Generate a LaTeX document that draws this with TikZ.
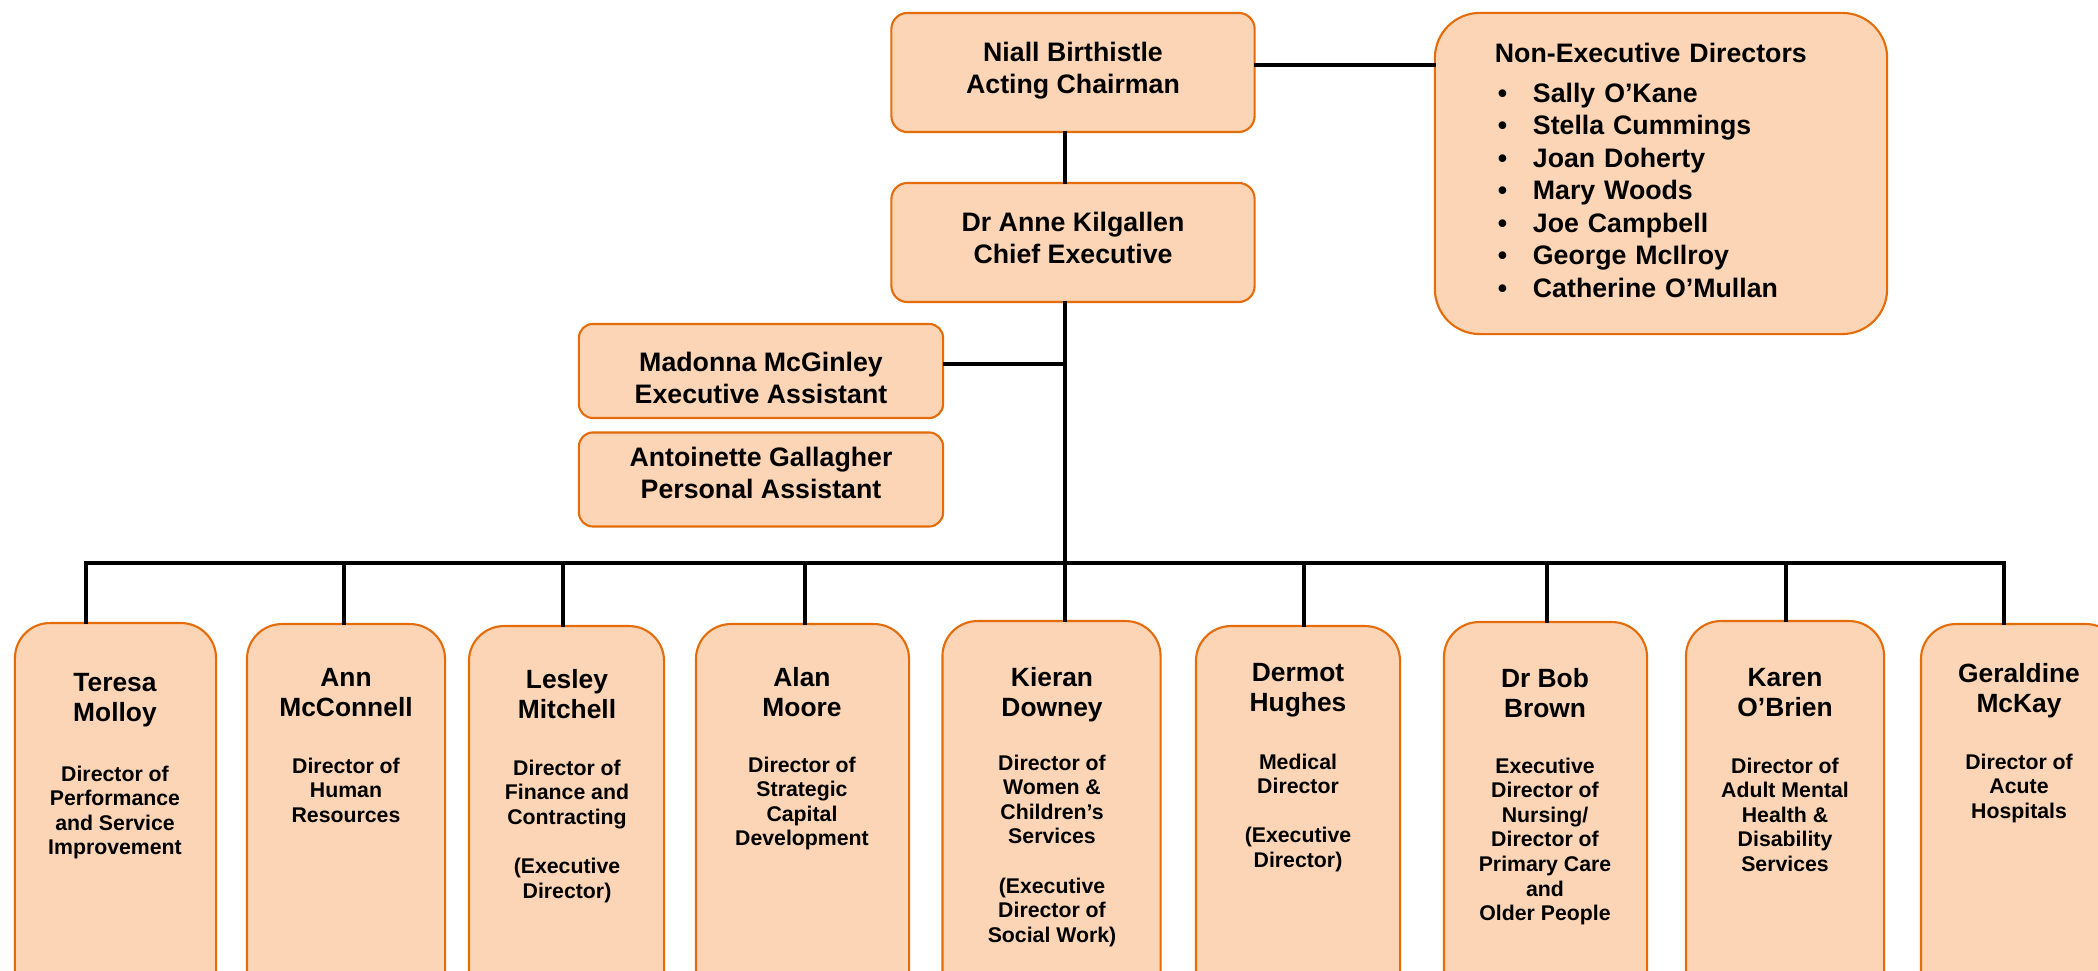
\documentclass[tikz,border=0pt]{standalone}
\usepackage{fontspec}
\setmainfont{Liberation Sans}
\definecolor{boxfill}{HTML}{FBD5B5}
\definecolor{boxline}{HTML}{E46C0A}
\newcommand{\nedbullet}{\makebox[0.38cm][l]{\hspace{0.03cm}\textbullet}}

\begin{document}
\begin{tikzpicture}[x=0.01cm, y=-0.01cm,
  orgbox/.style={draw=boxline, fill=boxfill, line width=0.6pt, align=center, font=\fontsize{7.6}{9.1}\selectfont\bfseries},
  topbox/.style={orgbox, rounded corners=0.16cm, minimum width=3.63cm, minimum height=1.19cm, text depth=0.1cm},
  pabox/.style={orgbox, rounded corners=0.14cm, minimum width=3.64cm, minimum height=0.94cm},
  nedbox/.style={orgbox, rounded corners=0.45cm, align=left, text width=3.32cm, inner xsep=0.6cm, minimum height=3.21cm, text depth=2.41cm, font=\fontsize{7.6}{9.25}\selectfont\bfseries},
  dirbox/.style={orgbox, anchor=north, rounded corners=0.35cm, minimum height=3.9cm},
  dirname/.style={anchor=north, align=center, inner sep=0pt, font=\fontsize{7.5}{8.5}\selectfont\bfseries},
  dirrole/.style={anchor=north, align=center, inner sep=0pt, font=\fontsize{6.05}{7}\selectfont\bfseries},
  conn/.style={line width=0.95pt, line cap=rect}]
  \useasboundingbox (0,0) rectangle (2098,971);
  \clip (0,0) rectangle (2098,971);

  \node[topbox] (chair) at (1073,72.5) {Niall Birthistle\\Acting Chairman};
  \node[topbox] (ceo) at (1073,242.5) {Dr Anne Kilgallen\\Chief Executive};
  \node[nedbox] (ned) at (1661,173.5) {Non-Executive Directors\\[2pt]
    \nedbullet Sally O’Kane\\ \nedbullet Stella Cummings\\ \nedbullet Joan Doherty\\
    \nedbullet Mary Woods\\ \nedbullet Joe Campbell\\ \nedbullet George McIlroy\\
    \nedbullet Catherine O’Mullan};
  \node[pabox, text height=0.645cm] (ea) at (761,371) {Madonna McGinley\\Executive Assistant};
  \node[pabox, text depth=0.13cm] (pa) at (761,479.5) {Antoinette Gallagher\\Personal Assistant};

  \node[dirbox, minimum width=2.01cm] (tm) at (115.5,622) {};
  \node[dirbox, minimum width=1.98cm] (am) at (346,623) {};
  \node[dirbox, minimum width=1.95cm] (lm) at (566.5,625) {};
  \node[dirbox, minimum width=2.13cm] (alm) at (802.5,623) {};
  \node[dirbox, minimum width=2.18cm] (kd) at (1051.5,620) {};
  \node[dirbox, minimum width=2.04cm] (dh) at (1298,625) {};
  \node[dirbox, minimum width=2.03cm] (bb) at (1545.5,621) {};
  \node[dirbox, minimum width=1.98cm] (ko) at (1785,620) {};
  \node[dirbox, minimum width=2cm] (gm) at (2021,623) {};

  \node[dirname] (tmn) at (115,673) {Teresa\\Molloy};
  \node[dirrole] (tmr) at (115,765) {Director of\\Performance\\and Service\\Improvement};
  \node[dirname] (amn) at (346,668) {Ann\\McConnell};
  \node[dirrole] (amr) at (346,757) {Director of\\Human\\Resources};
  \node[dirname] (lmn) at (567,669) {Lesley\\Mitchell};
  \node[dirrole] (lmr) at (567,759) {Director of\\Finance and\\Contracting\\[7pt](Executive\\Director)};
  \node[dirname] (almn) at (802,667) {Alan\\Moore};
  \node[dirrole] (almr) at (802,756) {Director of\\Strategic\\Capital\\Development};
  \node[dirname] (kdn) at (1052,667) {Kieran\\Downey};
  \node[dirrole] (kdr) at (1052,754) {Director of\\Women \&\\Children’s\\Services\\[7pt](Executive\\Director of\\Social Work)};
  \node[dirname] (dhn) at (1298,663) {Dermot\\Hughes};
  \node[dirrole] (dhr) at (1298,753) {Medical\\Director\\[7pt](Executive\\Director)};
  \node[dirname] (bbn) at (1545,668) {Dr Bob\\Brown};
  \node[dirrole] (bbr) at (1545,757) {Executive\\Director of\\Nursing/\\Director of\\Primary Care\\and\\Older People};
  \node[dirname] (kon) at (1785,668) {Karen\\O’Brien};
  \node[dirrole] (kor) at (1785,757) {Director of\\Adult Mental\\Health \&\\Disability\\Services};
  \node[dirname] (gmn) at (2019,663) {Geraldine\\McKay};
  \node[dirrole] (gmr) at (2019,753) {Director of\\Acute\\Hospitals};

  \coordinate (nj) at (1300,65);
  \coordinate (ej) at (1065,364);
  \foreach \b/\x in {1/86, 2/344, 3/563, 4/805, 5/1065, 6/1304, 7/1547, 8/1786, 9/2004}
    \coordinate (b\b) at (\x,563);

  \draw[conn] (chair.east |- nj) -- (ned.west |- nj);
  \draw[conn] (chair.south -| ej) -- (ceo.north -| ej);
  \draw[conn] (ceo.south -| ej) -- (b5);
  \draw[conn] (ea.east |- ej) -- (ej);
  \draw[conn] (b1) -- (b9);
  \foreach \b/\d in {1/tm, 2/am, 3/lm, 4/alm, 5/kd, 6/dh, 7/bb, 8/ko, 9/gm}
    \draw[conn] (b\b) -- (b\b |- \d.north);
\end{tikzpicture}
\end{document}
